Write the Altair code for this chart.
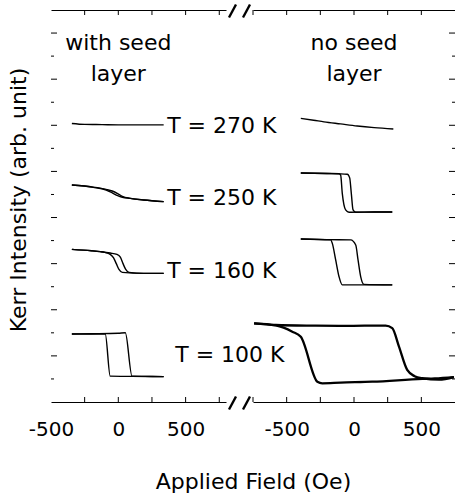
import altair as alt
import pandas as pd

FONT = "DejaVu Sans"

# ---- Kerr hysteresis loops: applied field (Oe) vs Kerr signal (arb. unit, offset per temperature)
# with seed layer
ws270_h = [-345, -250, -120, 0, 120, 250, 337]
ws270_k = [12.08, 12.04, 12.03, 12.02, 12.02, 12.02, 12.02]

ws250_up_h = [-345, -186, -90, -45, -5, 30, 89, 188, 337]
ws250_up_k = [9.41, 9.32, 9.22, 9.15, 9.04, 8.92, 8.83, 8.76, 8.69]
ws250_dn_h = [337, 188, 89, 30, -5, -45, -90, -186, -345]
ws250_dn_k = [8.69, 8.76, 8.83, 8.88, 8.95, 9.07, 9.19, 9.31, 9.41]

ws160_up_h = [-345, -200, -134, -60, -10, 15, 35, 55, 80, 188, 337]
ws160_up_k = [6.62, 6.56, 6.52, 6.46, 6.40, 6.28, 6.00, 5.75, 5.62, 5.58, 5.58]
ws160_dn_h = [337, 188, 30, 5, -15, -35, -60, -100, -134, -200, -345]
ws160_dn_k = [5.58, 5.58, 5.62, 5.75, 6.00, 6.25, 6.40, 6.49, 6.52, 6.56, 6.62]

ws100_up_h = [-345, -200, 0, 52, 102, 200, 337]
ws100_up_k = [2.95, 2.96, 2.98, 3.00, 1.12, 1.11, 1.10]
ws100_dn_h = [337, 100, -60, -97, -200, -345]
ws100_dn_k = [1.10, 1.11, 1.12, 2.95, 2.95, 2.95]

# no seed layer
ns270_h = [-395, -300, -223, -100, 24, 150, 292]
ns270_k = [12.30, 12.22, 12.15, 12.06, 11.97, 11.90, 11.84]

ns250_up_h = [-395, -200, -50, -32, -20, -7, 13, 150, 284]
ns250_up_k = [9.93, 9.91, 9.88, 9.72, 9.05, 8.33, 8.23, 8.24, 8.24]
ns250_dn_h = [284, 150, -37, -62, -87, -99, -111, -200, -395]
ns250_dn_k = [8.24, 8.24, 8.23, 8.33, 9.05, 9.84, 9.90, 9.91, 9.93]

ns160_up_h = [-395, -200, -25, 13, 30, 50, 74, 284]
ns160_up_k = [7.07, 7.04, 7.03, 6.81, 6.16, 5.43, 5.10, 5.08]
ns160_dn_h = [284, -87, -111, -136, -161, -173, -395]
ns160_dn_k = [5.08, 5.08, 5.43, 6.16, 6.88, 7.03, 7.07]

ns100_up_h = [-742, -581, -300, -111, 100, 235, 284, 334, 395, 450, 507, 631, 742]
ns100_up_k = [3.41, 3.34, 3.31, 3.30, 3.31, 3.31, 3.20, 2.40, 1.39, 1.12, 1.03, 0.97, 1.08]
ns100_dn_h = [742, 600, 507, 136, -100, -235, -272, -395, -458, -581, -742]
ns100_dn_k = [1.08, 1.02, 1.00, 0.88, 0.84, 0.81, 0.88, 2.83, 3.05, 3.32, 3.41]

# axis tick values
left_ticks = [-250, 0, 250, 500, 750]
right_ticks = [-750, -500, -250, 0, 250, 500]
field_labels = [-500, 0, 500]
y_major = [2, 4, 6, 8, 10, 12, 14, 16]
y_minor = [1, 3, 5, 7, 9, 11, 13, 15]

# annotations
y_title = "Kerr Intensity (arb. unit)"
x_title = "Applied Field (Oe)"
header_left = ["with seed", "layer"]
header_right = ["no seed", "layer"]
header_k = [15.27, 13.9]
temp_labels = ["T = 270 K", "T = 250 K", "T = 160 K", "T = 100 K"]
temp_label_h = [363, 363, 363, 423]
temp_label_k = [11.67, 8.55, 5.38, 1.73]


def curve_rows(name, hs, ks):
    return [{"curve": name, "H": h, "K": k} for h, k in zip(hs, ks)]


left_df = pd.DataFrame(
    curve_rows("ws270", ws270_h, ws270_k)
    + curve_rows("ws250_up", ws250_up_h, ws250_up_k)
    + curve_rows("ws250_dn", ws250_dn_h, ws250_dn_k)
    + curve_rows("ws160_up", ws160_up_h, ws160_up_k)
    + curve_rows("ws160_dn", ws160_dn_h, ws160_dn_k)
    + curve_rows("ws100_up", ws100_up_h, ws100_up_k)
    + curve_rows("ws100_dn", ws100_dn_h, ws100_dn_k)
)
right_df = pd.DataFrame(
    curve_rows("ns270", ns270_h, ns270_k)
    + curve_rows("ns250_up", ns250_up_h, ns250_up_k)
    + curve_rows("ns250_dn", ns250_dn_h, ns250_dn_k)
    + curve_rows("ns160_up", ns160_up_h, ns160_up_k)
    + curve_rows("ns160_dn", ns160_dn_h, ns160_dn_k)
)
right100_df = pd.DataFrame(
    curve_rows("ns100_up", ns100_up_h, ns100_up_k)
    + curve_rows("ns100_dn", ns100_dn_h, ns100_dn_k)
)

# ---- layout: one plot area with a broken field axis (two x scales)
W, H = 404, 392
LEFT_END = 175
RIGHT_START = 202
y_scale = alt.Scale(domain=[0, 17])


def left_x(field, axis=None):
    return alt.X(field, scale=alt.Scale(domain=[-500, 800], range=[0, LEFT_END]), axis=axis)


def right_x(field, axis=None):
    return alt.X(field, scale=alt.Scale(domain=[-750, 750], range=[RIGHT_START, W]), axis=axis)


label_axis = dict(
    orient="bottom", values=field_labels, ticks=False, tickSize=0, labelPadding=33,
    labelBaseline="alphabetic", labelFontSize=20, labelFlush=False,
    labelExpr="'' + datum.value", domainColor="black", domainWidth=1.2, grid=False,
)
frame_top_axis = alt.Axis(orient="top", labels=False, ticks=False, domainColor="black",
                          domainWidth=1.2, grid=False, title=None)

line_kw = dict(color="black", strokeWidth=1.4, interpolate="monotone")

left_lines = alt.Chart(left_df).mark_line(**line_kw).encode(
    x=left_x("H:Q", alt.Axis(
        **label_axis, title=x_title, titleX=202, titleY=86,
        titleAlign="center", titleBaseline="alphabetic", titleFontSize=22)),
    y=alt.Y("K:Q", scale=y_scale, axis=alt.Axis(
        orient="left", labels=False, ticks=False, grid=False, domainColor="black",
        domainWidth=1.2, title=None)),
    detail="curve:N",
)
right_lines = alt.Chart(right_df).mark_line(**line_kw).encode(
    x=right_x("H:Q", alt.Axis(**label_axis, title=None)),
    y=alt.Y("K:Q", scale=y_scale, axis=None),
    detail="curve:N",
)
right_lines_100 = alt.Chart(right100_df).mark_line(
    color="black", strokeWidth=2.3, interpolate="monotone").encode(
    x=right_x("H:Q"),
    y=alt.Y("K:Q", scale=y_scale, axis=None),
    detail="curve:N",
)

# inward ticks on the frame
lt = pd.DataFrame({"v": left_ticks})
rt = pd.DataFrame({"v": right_ticks})
tick_kw = dict(color="black", strokeWidth=1)
left_top = alt.Chart(lt).mark_rule(**tick_kw).encode(
    x=left_x("v:Q", frame_top_axis), y=alt.value(0), y2=alt.value(5))
left_bottom = alt.Chart(lt).mark_rule(**tick_kw).encode(
    x=left_x("v:Q"), y=alt.value(H - 5), y2=alt.value(H))
right_top = alt.Chart(rt).mark_rule(**tick_kw).encode(
    x=right_x("v:Q", frame_top_axis), y=alt.value(0), y2=alt.value(5))
right_bottom = alt.Chart(rt).mark_rule(**tick_kw).encode(
    x=right_x("v:Q"), y=alt.value(H - 5), y2=alt.value(H))

ymaj = pd.DataFrame({"v": y_major})
ymin = pd.DataFrame({"v": y_minor})
y_ticks = [
    alt.Chart(ymaj).mark_rule(**tick_kw).encode(
        y=alt.Y("v:Q", scale=y_scale, axis=None), x=alt.value(0), x2=alt.value(6)),
    alt.Chart(ymin).mark_rule(**tick_kw).encode(
        y=alt.Y("v:Q", scale=y_scale, axis=None), x=alt.value(0), x2=alt.value(3)),
    alt.Chart(ymaj).mark_rule(**tick_kw).encode(
        y=alt.Y("v:Q", scale=y_scale, axis=None), x=alt.value(W - 6), x2=alt.value(W)),
    alt.Chart(ymin).mark_rule(**tick_kw).encode(
        y=alt.Y("v:Q", scale=y_scale, axis=None), x=alt.value(W - 3), x2=alt.value(W)),
]

# axis-break marks (//) at top and bottom of the gap
one = pd.DataFrame({"k": [0]})
gap_c = (LEFT_END + RIGHT_START) / 2
breaks = []
for frame_y in (1, H + 1):
    for dx in (-7, 7):
        cx = gap_c + dx
        breaks.append(
            alt.Chart(one).mark_rule(color="black", strokeWidth=2.4).encode(
                x=alt.value(cx - 3.5), x2=alt.value(cx + 3.5),
                y=alt.value(frame_y + 6.5), y2=alt.value(frame_y - 6.5)))

# vertical axis title
y_title_mark = alt.Chart(one).mark_text(
    font=FONT, fontSize=22, color="black", angle=270, align="center",
    baseline="alphabetic").encode(
    x=alt.value(-25), y=alt.value(H / 2 - 6), text=alt.value(y_title))

# text annotations
text_kw = dict(font=FONT, fontSize=22, color="black", baseline="alphabetic")
hl = pd.DataFrame({"t": header_left, "H": [0, 0], "K": header_k})
hr = pd.DataFrame({"t": header_right, "H": [0, 0], "K": header_k})
tl = pd.DataFrame({"t": temp_labels, "H": temp_label_h, "K": temp_label_k})
head_left = alt.Chart(hl).mark_text(align="center", **text_kw).encode(
    x=left_x("H:Q"), y=alt.Y("K:Q", scale=y_scale, axis=None), text="t:N")
head_right = alt.Chart(hr).mark_text(align="center", **text_kw).encode(
    x=right_x("H:Q"), y=alt.Y("K:Q", scale=y_scale, axis=None), text="t:N")
temps = alt.Chart(tl).mark_text(align="left", **text_kw).encode(
    x=left_x("H:Q"), y=alt.Y("K:Q", scale=y_scale, axis=None), text="t:N")

chart = alt.layer(
    left_lines, right_lines, right_lines_100,
    left_top, left_bottom, right_top, right_bottom,
    *y_ticks, *breaks, y_title_mark, head_left, head_right, temps,
).resolve_scale(x="independent").properties(
    width=W, height=H,
    autosize=alt.AutoSizeParams(type="none"),
    padding={"left": 51, "top": 10, "right": 0, "bottom": 93},
).configure_view(stroke=None).configure_axis(
    labelFont=FONT, titleFont=FONT, labelColor="black", titleColor="black",
    titleFontWeight="normal",
)

chart.save("out.html", embed_options={"renderer": "svg", "actions": False})
